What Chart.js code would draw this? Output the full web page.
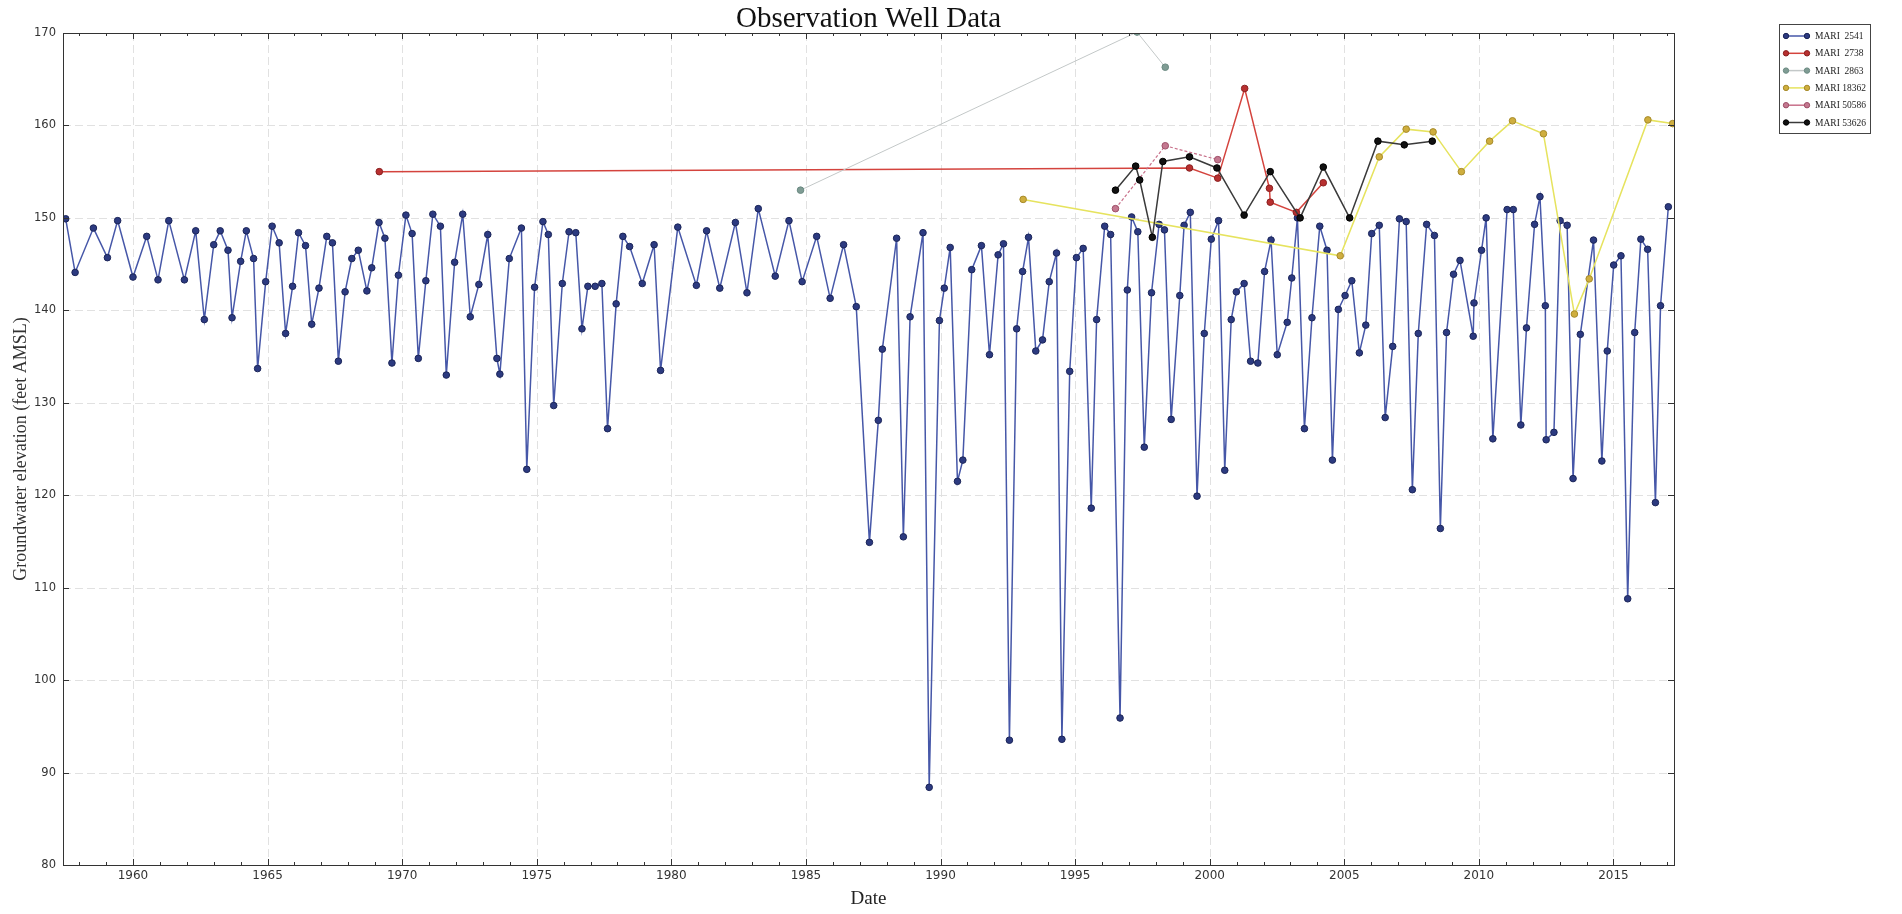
<!DOCTYPE html>
<html>
<head>
<meta charset="utf-8">
<title>Observation Well Data</title>
<script src="https://cdn.jsdelivr.net/npm/chart.js@4.4.1/dist/chart.umd.min.js"></script>
<style>
  html, body { margin: 0; padding: 0; background: #fff; }
  #wrap { width: 1902px; height: 914px; }
</style>
</head>
<body>
<div id="wrap"><canvas id="wellChart" width="1902" height="914"></canvas></div>
<script>
// axes
const xMin = 1957.4, xMax = 2017.25;
const xTicks = [1960, 1965, 1970, 1975, 1980, 1985, 1990, 1995, 2000, 2005, 2010, 2015];
const yTicks = [80, 90, 100, 110, 120, 130, 140, 150, 160, 170];

// MARI 2541 (decimal year, feet AMSL)
const mari2541Dates = [
  1957.50, 1957.85, 1958.53, 1959.05, 1959.43, 1960.00, 1960.51, 1960.93, 1961.33, 1961.91,
  1962.33, 1962.65, 1963.00, 1963.24, 1963.53, 1963.68, 1964.00, 1964.21, 1964.48, 1964.63,
  1964.93, 1965.17, 1965.43, 1965.67, 1965.93, 1966.15, 1966.41, 1966.64, 1966.91, 1967.20,
  1967.41, 1967.63, 1967.88, 1968.13, 1968.37, 1968.69, 1968.87, 1969.14, 1969.36, 1969.62,
  1969.86, 1970.14, 1970.37, 1970.60, 1970.88, 1971.14, 1971.42, 1971.64, 1971.95, 1972.25,
  1972.53, 1972.85, 1973.18, 1973.52, 1973.63, 1973.98, 1974.43, 1974.63, 1974.92, 1975.23,
  1975.43, 1975.63, 1975.95, 1976.20, 1976.45, 1976.68, 1976.90, 1977.17, 1977.42, 1977.63,
  1977.95, 1978.20, 1978.45, 1978.92, 1979.36, 1979.60, 1980.24, 1980.93, 1981.31, 1981.80,
  1982.38, 1982.81, 1983.23, 1983.86, 1984.37, 1984.86, 1985.40, 1985.90, 1986.40, 1986.87,
  1987.36, 1987.69, 1987.84, 1988.37, 1988.62, 1988.87, 1989.35, 1989.58, 1989.96, 1990.14,
  1990.36, 1990.63, 1990.83, 1991.16, 1991.52, 1991.82, 1992.14, 1992.34, 1992.56, 1992.83,
  1993.05, 1993.27, 1993.54, 1993.79, 1994.04, 1994.31, 1994.51, 1994.80, 1995.05, 1995.30,
  1995.60, 1995.80, 1996.10, 1996.32, 1996.67, 1996.94, 1997.10, 1997.33, 1997.57, 1997.84,
  1998.12, 1998.32, 1998.57, 1998.89, 1999.05, 1999.28, 1999.53, 1999.80, 2000.06, 2000.33,
  2000.56, 2000.80, 2000.99, 2001.28, 2001.52, 2001.79, 2002.04, 2002.28, 2002.51, 2002.88,
  2003.05, 2003.26, 2003.52, 2003.80, 2004.09, 2004.36, 2004.56, 2004.78, 2005.03, 2005.28,
  2005.56, 2005.80, 2006.02, 2006.30, 2006.52, 2006.80, 2007.05, 2007.30, 2007.53, 2007.75,
  2008.06, 2008.35, 2008.57, 2008.80, 2009.06, 2009.30, 2009.79, 2009.82, 2010.10, 2010.27,
  2010.52, 2011.05, 2011.28, 2011.56, 2011.77, 2012.07, 2012.27, 2012.47, 2012.50, 2012.79,
  2013.02, 2013.28, 2013.50, 2013.77, 2014.26, 2014.57, 2014.77, 2015.01, 2015.28, 2015.53,
  2015.79, 2016.02, 2016.27, 2016.56, 2016.75, 2017.04
];
const mari2541Levels = [
  149.9, 144.1, 148.9, 145.7, 149.7, 143.6, 148.0, 143.3, 149.7, 143.3,
  148.6, 139.0, 147.1, 148.6, 146.5, 139.2, 145.3, 148.6, 145.6, 133.7,
  143.1, 149.1, 147.3, 137.5, 142.6, 148.4, 147.0, 138.5, 142.4, 148.0,
  147.3, 134.5, 142.0, 145.6, 146.5, 142.1, 144.6, 149.5, 147.8, 134.3,
  143.8, 150.3, 148.3, 134.8, 143.2, 150.4, 149.1, 133.0, 145.2, 150.4,
  139.3, 142.8, 148.2, 134.8, 133.1, 145.6, 148.9, 122.8, 142.5, 149.6,
  148.2, 129.7, 142.9, 148.5, 148.4, 138.0, 142.6, 142.6, 142.9, 127.2,
  140.7, 148.0, 146.9, 142.9, 147.1, 133.5, 149.0, 142.7, 148.6, 142.4,
  149.5, 141.9, 151.0, 143.7, 149.7, 143.1, 148.0, 141.3, 147.1, 140.4,
  114.9, 128.1, 135.8, 147.8, 115.5, 139.3, 148.4, 88.4, 138.9, 142.4,
  146.8, 121.5, 123.8, 144.4, 147.0, 135.2, 146.0, 147.2, 93.5, 138.0,
  144.2, 147.9, 135.6, 136.8, 143.1, 146.2, 93.6, 133.4, 145.7, 146.7,
  118.6, 139.0, 149.1, 148.2, 95.9, 142.2, 150.1, 148.5, 125.2, 141.9,
  149.3, 148.7, 128.2, 141.6, 149.2, 150.6, 119.9, 137.5, 147.7, 149.7,
  122.7, 139.0, 142.0, 142.9, 134.5, 134.3, 144.2, 147.6, 135.2, 138.7,
  143.5, 150.0, 127.2, 139.2, 149.1, 146.5, 123.8, 140.1, 141.6, 143.2,
  135.4, 138.4, 148.3, 149.2, 128.4, 136.1, 149.9, 149.6, 120.6, 137.5,
  149.3, 148.1, 116.4, 137.6, 143.9, 145.4, 137.2, 140.8, 146.5, 150.0,
  126.1, 150.9, 150.9, 127.6, 138.1, 149.3, 152.3, 140.5, 126.0, 126.8,
  149.7, 149.2, 121.8, 137.4, 147.6, 123.7, 135.6, 144.9, 145.9, 108.8,
  137.6, 147.7, 146.6, 119.2, 140.5, 151.2
];

// MARI 2738
const mari2738Dates = [1969.15, 1999.25, 2000.30, 2001.30, 2002.22, 2002.25, 2003.22, 2004.22];
const mari2738Levels = [155.0, 155.4, 154.3, 164.0, 153.2, 151.7, 150.6, 153.8];

// MARI 2863
const mari2863Dates = [1984.80, 1997.30, 1998.35];
const mari2863Levels = [153.0, 170.1, 166.3];

// MARI 18362
const mari18362Dates = [1993.07, 2004.85, 2006.30, 2007.30, 2008.30, 2009.35, 2010.40, 2011.25, 2012.40, 2013.55, 2014.10, 2016.28, 2017.20];
const mari18362Levels = [152.0, 145.9, 156.6, 159.6, 159.3, 155.0, 158.3, 160.5, 159.1, 139.6, 143.4, 160.6, 160.2];

// MARI 50586
const mari50586Dates = [1996.50, 1998.35, 2000.30];
const mari50586Levels = [151.0, 157.8, 156.3];

// MARI 53626
const mari53626Dates = [1996.50, 1997.25, 1997.40, 1997.87, 1998.26, 1999.25, 2000.27, 2001.28, 2002.25, 2003.36, 2004.22, 2005.20, 2006.25, 2007.23, 2008.27];
const mari53626Levels = [153.0, 155.6, 154.1, 147.9, 156.1, 156.6, 155.4, 150.3, 155.0, 150.0, 155.5, 150.0, 158.3, 157.9, 158.3];

const SERIF = '"Liberation Serif", "DejaVu Serif", serif';
const SANS = '"DejaVu Sans", sans-serif';

function series(label, dates, levels, style) {
  return Object.assign({
    label: label,
    data: dates.map((d, i) => ({ x: d, y: levels[i] })),
    tension: 0,
    borderWidth: 1.5,
    pointRadius: 3.3,
    pointHoverRadius: 4,
    pointBorderWidth: 1
  }, style);
}

const datasets = [
  series('MARI  2541', mari2541Dates, mari2541Levels, {
    borderColor: '#4657a8', pointBackgroundColor: '#2c3a80', pointBorderColor: '#1b2558', order: 6 }),
  series('MARI  2738', mari2738Dates, mari2738Levels, {
    borderColor: '#d4433d', pointBackgroundColor: '#b83030', pointBorderColor: '#8a2020', order: 5 }),
  series('MARI  2863', mari2863Dates, mari2863Levels, {
    borderColor: '#c3c8c8', borderWidth: 1, pointBackgroundColor: '#7f9c94', pointBorderColor: '#6b8a82', order: 4 }),
  series('MARI 18362', mari18362Dates, mari18362Levels, {
    borderColor: '#e6e35e', pointBackgroundColor: '#cfae3e', pointBorderColor: '#a68a2a', order: 3 }),
  series('MARI 50586', mari50586Dates, mari50586Levels, {
    borderColor: '#c8708a', borderWidth: 1.2, borderDash: [3, 2], pointBackgroundColor: '#c47890', pointBorderColor: '#9e5068', order: 2 }),
  series('MARI 53626', mari53626Dates, mari53626Levels, {
    borderColor: '#3a3a3a', pointBackgroundColor: '#111111', pointBorderColor: '#000000', order: 1 })
];

// grid, frame, inward ticks, title and legend box
const decorPlugin = {
  id: 'decor',
  beforeDatasetsDraw(chart) {
    const { ctx, chartArea: a, scales } = chart;
    ctx.save();
    ctx.strokeStyle = '#e1e1e1';
    ctx.lineWidth = 1;
    ctx.setLineDash([8, 4]);
    xTicks.forEach(v => {
      const px = Math.round(scales.x.getPixelForValue(v)) + 0.5;
      ctx.beginPath(); ctx.moveTo(px, a.top); ctx.lineTo(px, a.bottom); ctx.stroke();
    });
    yTicks.forEach(v => {
      const py = Math.round(scales.y.getPixelForValue(v)) + 0.5;
      ctx.beginPath(); ctx.moveTo(a.left, py); ctx.lineTo(a.right, py); ctx.stroke();
    });
    ctx.restore();
  },
  afterDatasetsDraw(chart) {
    const { ctx, chartArea: a, scales } = chart;
    ctx.save();
    ctx.strokeStyle = '#333';
    ctx.lineWidth = 1;
    ctx.setLineDash([]);
    ctx.strokeRect(Math.round(a.left) + 0.5, Math.round(a.top) + 0.5,
      Math.round(a.right - a.left), Math.round(a.bottom - a.top));
    ctx.beginPath();
    for (let yr = 1958; yr <= 2017; yr++) {
      const px = Math.round(scales.x.getPixelForValue(yr)) + 0.5;
      const len = xTicks.includes(yr) ? 6 : 3;
      ctx.moveTo(px, a.bottom); ctx.lineTo(px, a.bottom - len);
      ctx.moveTo(px, a.top); ctx.lineTo(px, a.top + len);
    }
    yTicks.forEach(v => {
      const py = Math.round(scales.y.getPixelForValue(v)) + 0.5;
      ctx.moveTo(a.left, py); ctx.lineTo(a.left + 6, py);
      ctx.moveTo(a.right, py); ctx.lineTo(a.right - 6, py);
    });
    ctx.stroke();
    ctx.restore();
  },
  afterDraw(chart) {
    const { ctx, chartArea: a } = chart;
    ctx.save();
    ctx.fillStyle = '#111';
    ctx.font = '29px ' + SERIF;
    ctx.textAlign = 'center';
    ctx.textBaseline = 'alphabetic';
    ctx.fillText('Observation Well Data', (a.left + a.right) / 2, 27);

    // legend
    const bx = 1779, by = 24, bw = 91, bh = 109;
    ctx.fillStyle = '#fff';
    ctx.fillRect(bx, by, bw, bh);
    ctx.strokeStyle = '#444';
    ctx.lineWidth = 1;
    ctx.strokeRect(bx + 0.5, by + 0.5, bw, bh);
    ctx.font = '9.5px ' + SERIF;
    ctx.textAlign = 'left';
    ctx.textBaseline = 'middle';
    chart.data.datasets.forEach((ds, i) => {
      const y = by + 12 + i * 17.3;
      ctx.strokeStyle = ds.borderColor;
      ctx.lineWidth = 1.5;
      ctx.beginPath(); ctx.moveTo(bx + 7, y); ctx.lineTo(bx + 28, y); ctx.stroke();
      [bx + 7, bx + 28].forEach(cx => {
        ctx.beginPath();
        ctx.arc(cx, y, 2.7, 0, Math.PI * 2);
        ctx.fillStyle = ds.pointBackgroundColor;
        ctx.fill();
        ctx.lineWidth = 1;
        ctx.strokeStyle = ds.pointBorderColor;
        ctx.stroke();
      });
      ctx.fillStyle = '#222';
      ctx.fillText(ds.label, bx + 36, y + 0.5);
    });
    ctx.restore();
  }
};

new Chart(document.getElementById('wellChart'), {
  type: 'line',
  data: { datasets: datasets },
  plugins: [decorPlugin],
  options: {
    responsive: false,
    animation: false,
    layout: { padding: { top: 33, right: 228, bottom: 0, left: 0 } },
    plugins: { legend: { display: false }, title: { display: false }, tooltip: { enabled: false } },
    scales: {
      x: {
        type: 'linear',
        min: xMin,
        max: xMax,
        afterBuildTicks: s => { s.ticks = xTicks.map(v => ({ value: v })); },
        afterFit: s => { s.height = 49; },
        ticks: {
          callback: v => String(v),
          font: { family: SANS, size: 12 },
          color: '#333',
          padding: 4,
          maxRotation: 0,
          autoSkip: false
        },
        grid: { display: false, drawTicks: false },
        border: { display: false },
        title: {
          display: true, text: 'Date', color: '#222',
          font: { family: SERIF, size: 19 },
          padding: { top: 0, bottom: 4 }
        }
      },
      y: {
        type: 'linear',
        min: 80,
        max: 170,
        afterBuildTicks: s => { s.ticks = yTicks.map(v => ({ value: v })); },
        afterFit: s => { s.width = 63; },
        ticks: {
          font: { family: SANS, size: 11.5 },
          color: '#333',
          padding: 7
        },
        grid: { display: false, drawTicks: false },
        border: { display: false },
        title: {
          display: true, text: 'Groundwater elevation (feet AMSL)', color: '#333',
          font: { family: SERIF, size: 18 },
          padding: { top: 10, bottom: 0 }
        }
      }
    }
  }
});
</script>
</body>
</html>
